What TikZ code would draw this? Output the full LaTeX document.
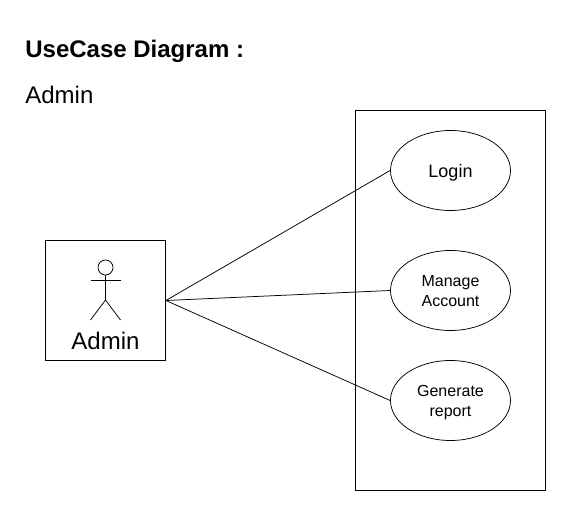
\documentclass[tikz,border=0pt]{standalone}
\usepackage{fontspec}
\setmainfont{Liberation Sans}
\usetikzlibrary{positioning, shapes.geometric}
\tikzset{
    x=1pt, y=-1pt,
    every path/.style={line width=0.75pt},
    usecase/.style={draw, ellipse, minimum width=120pt, minimum height=80pt, inner sep=0pt, align=center, text depth=0pt},
    box/.style={draw, minimum width=120pt, minimum height=120pt, inner sep=0pt},
    bigtext/.style={inner sep=0pt, font=\fontsize{24}{28}\selectfont},
}
\begin{document}
\begin{tikzpicture}
    \useasboundingbox (0,0) rectangle (566,519);
    \node[bigtext, anchor=west, font=\bfseries\fontsize{24}{28}\selectfont] (title) at (25,51) {UseCase Diagram :};
    \node[bigtext, anchor=west] (subtitle) at (25,95) {Admin};

    \node[draw, minimum width=190pt, minimum height=380pt, inner sep=0pt] (system) at (450.5,300.5) {};
    \node[usecase, font=\fontsize{18}{20}\selectfont] (login) at (450.5,170.5) {Login};
    \node[usecase, font=\fontsize{16}{20}\selectfont] (manage) [below=39.25pt of login] {Manage\\Account};
    \node[usecase, font=\fontsize{16}{20}\selectfont] (report) [below=29.25pt of manage] {Generate\\report};

    \node[box] (admin) at (105.5,300.5) {};
    \node[bigtext] (adminlabel) at (105.5,341) {Admin};

    % stick figure
    \node[draw, circle, minimum size=15pt, inner sep=0pt] (head) at (105.5,267.5) {};
    \coordinate (hip) at (105.5,300);
    \coordinate (armL) at (90.5,280.5);
    \coordinate (armR) at (120.5,280.5);
    \coordinate (footL) at (90.5,320);
    \coordinate (footR) at (120.5,320);
    \draw (head.south) -- (hip);
    \draw (armL) -- (armR);
    \draw (footL) -- (hip) -- (footR);

    \draw (admin.east) -- (login.west);
    \draw (admin.east) -- (manage.west);
    \draw (admin.east) -- (report.west);
\end{tikzpicture}
\end{document}
